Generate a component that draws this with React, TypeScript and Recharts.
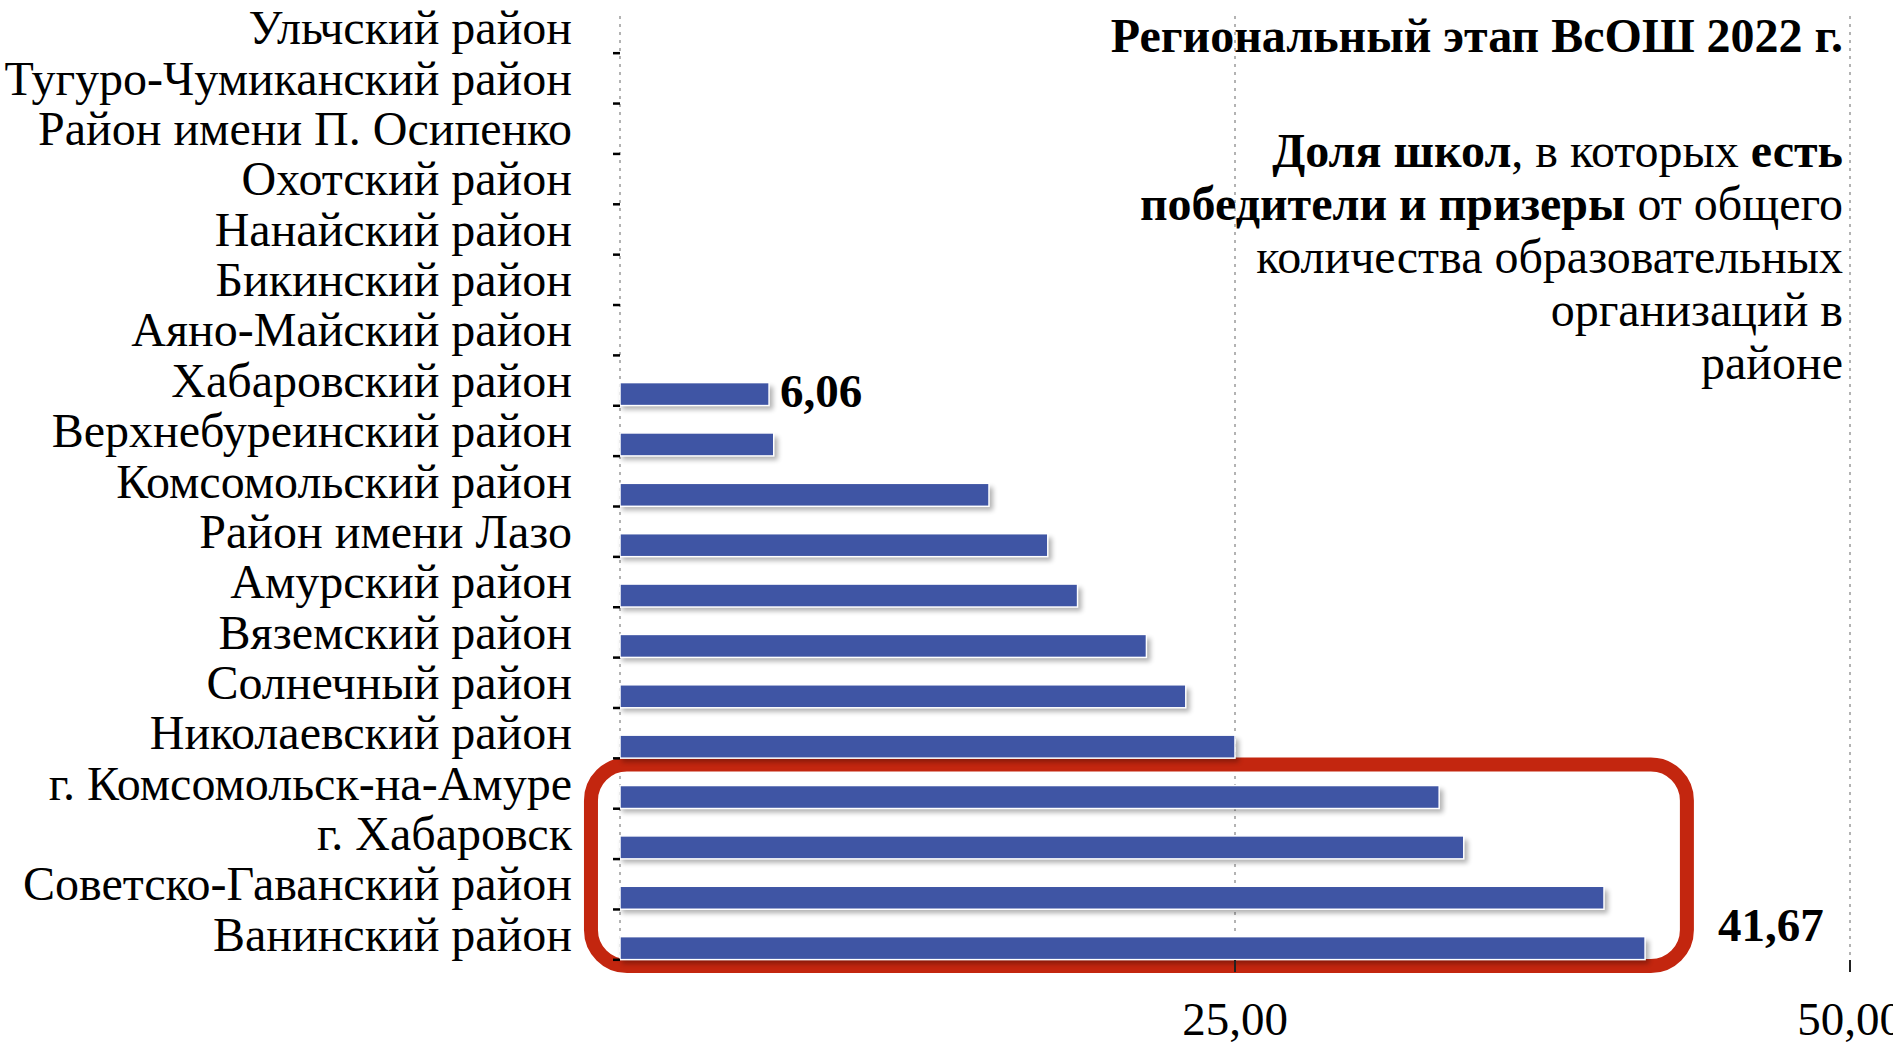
import React from 'react';
import { BarChart, Bar, XAxis, YAxis, CartesianGrid, ReferenceArea, LabelList } from 'recharts';

const districts = [
  'Ульчский район',
  'Тугуро-Чумиканский район',
  'Район имени П. Осипенко',
  'Охотский район',
  'Нанайский район',
  'Бикинский район',
  'Аяно-Майский район',
  'Хабаровский район',
  'Верхнебуреинский район',
  'Комсомольский район',
  'Район имени Лазо',
  'Амурский район',
  'Вяземский район',
  'Солнечный район',
  'Николаевский район',
  'г. Комсомольск-на-Амуре',
  'г. Хабаровск',
  'Советско-Гаванский район',
  'Ванинский район',
];
const shares = [0, 0, 0, 0, 0, 0, 0, 6.06, 6.25, 15.0, 17.39, 18.6, 21.4, 23.0, 25.0, 33.3, 34.3, 40.0, 41.67];
const xTicks = [0, 25, 50];
const labeledDistricts = ['Хабаровский район', 'Ванинский район'];
const highlightFrom = 'г. Комсомольск-на-Амуре';
const highlightTo = 'Ванинский район';
const titleText = 'Региональный этап ВсОШ 2022 г.';

const data = districts.map((name, i) => ({ name, value: shares[i] }));

const FONT = '"Liberation Serif", "Times New Roman", serif';
const BAR_COLOR = '#3F55A4';
const RED = '#C3260F';
const labelOffsets: Record<string, { dx: number; dy: number }> = {
  'Хабаровский район': { dx: 11, dy: 13 },
  'Ванинский район': { dx: 73, dy: -7 },
};

const fmt = (v: number) => v.toFixed(2).replace('.', ',');

const BarShape = (p: any) => {
  const { x, y, width, height, index } = p;
  if (!width || width <= 0) return <g />;
  const fid = `bs-${index}`;
  return (
    <g>
      <defs>
        <filter id={fid} x="-10%" y="-100%" width="120%" height="300%">
          <feGaussianBlur stdDeviation="2.5" />
        </filter>
      </defs>
      <rect x={x + 2} y={y + 4} width={width + 2} height={height} fill="#000" opacity={0.3} filter={`url(#${fid})`} />
      <rect x={x} y={y} width={width} height={height} fill={BAR_COLOR} stroke="#fff" strokeWidth={1.5} />
    </g>
  );
};

const ValueLabel = (p: any) => {
  const { x, y, width, height, value, index } = p;
  const name = districts[index];
  if (!labeledDistricts.includes(name)) return null;
  const off = labelOffsets[name] || { dx: 8, dy: 0 };
  return (
    <text
      x={x + width + off.dx}
      y={y + height / 2 + off.dy}
      fontFamily={FONT}
      fontWeight="bold"
      fontSize={47}
      fill="#000"
      textAnchor="start"
    >
      {fmt(Number(value))}
    </text>
  );
};

const XTick = (p: any) => {
  const { x, y, payload } = p;
  if (payload.value === 0) return <g />;
  return (
    <g>
      <line x1={x} x2={x} y1={y - 21} y2={y - 9} stroke="#222" strokeWidth={2} />
      <text x={x} y={y + 54} textAnchor="middle" fontFamily={FONT} fontSize={47} fill="#000">
        {fmt(payload.value)}
      </text>
    </g>
  );
};

const YTick = (p: any) => {
  const { x, y, payload } = p;
  return (
    <g>
      <text x={x} y={y + 3} textAnchor="end" fontFamily={FONT} fontSize={48} fill="#000">
        {payload.value}
      </text>
      <line x1={x + 41} x2={x + 48} y1={y + 12} y2={y + 12} stroke="#000" strokeWidth={2.5} />
    </g>
  );
};

const HighlightShape = (p: any) => {
  const { x, y, width, height } = p;
  return (
    <rect x={x} y={y - 7} width={width} height={height} rx={36} ry={36} fill="none" stroke={RED} strokeWidth={14} />
  );
};

export default function App() {
  return (
    <div style={{ position: 'absolute', left: 0, top: 0, width: 1893, height: 1044, overflow: 'hidden', background: '#fff' }}>
      <BarChart
        width={1893}
        height={1044}
        data={data}
        layout="vertical"
        margin={{ top: 16, right: 43, bottom: 0, left: 0 }}
        barSize={23}
      >
        <CartesianGrid horizontal={false} stroke="#9a9a9a" strokeWidth={1.5} strokeDasharray="3 5" />
        <XAxis
          type="number"
          domain={[0, 50]}
          ticks={xTicks}
          height={71}
          axisLine={false}
          tickLine={false}
          tick={<XTick />}
          interval={0}
        />
        <YAxis
          type="category"
          dataKey="name"
          width={620}
          axisLine={false}
          tickLine={false}
          tickMargin={42}
          tick={<YTick />}
          interval={0}
        />
        <Bar dataKey="value" isAnimationActive={false} shape={<BarShape />}>
          <LabelList dataKey="value" content={<ValueLabel />} />
        </Bar>
        <ReferenceArea
          x1={-1.18}
          x2={43.37}
          y1={highlightFrom}
          y2={highlightTo}
          ifOverflow="visible"
          shape={<HighlightShape />}
        />
      </BarChart>
      <div
        style={{
          position: 'absolute',
          right: 50,
          top: 10,
          textAlign: 'right',
          fontFamily: FONT,
          fontSize: 48,
          lineHeight: '51px',
          color: '#000',
          whiteSpace: 'nowrap',
        }}
      >
        <div style={{ fontWeight: 'bold' }}>{titleText}</div>
        <div style={{ marginTop: 63, lineHeight: '53px' }}>
          <b>Доля школ</b>, в которых <b>есть</b>
          <br />
          <b>победители и призеры</b> от общего
          <br />
          количества образовательных
          <br />
          организаций в
          <br />
          районе
        </div>
      </div>
    </div>
  );
}
